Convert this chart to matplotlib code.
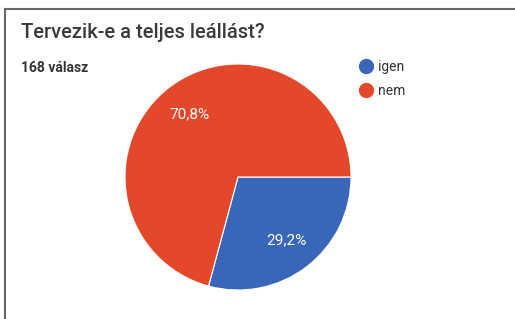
import matplotlib
matplotlib.use("Agg")
import matplotlib.pyplot as plt
from matplotlib.lines import Line2D

# Data
labels = ["igen", "nem"]
shares = [29.2, 70.8]
colors = ["#3a66b8", "#e4482a"]
title = "Tervezik-e a teljes leállást?"
subtitle = "168 válasz"

plt.rcParams["font.family"] = ["Roboto", "DejaVu Sans"]

W, H = 515, 319
fig = plt.figure(figsize=(W / 100, H / 100), dpi=100)
fig.patch.set_facecolor("white")

# pie axes: centre (238, 177) px, radius 113 px
cx, cy, r = 238, 177, 113
ax = fig.add_axes([(cx - r) / W, (H - cy - r) / H, 2 * r / W, 2 * r / H])
wedges, texts, autotexts = ax.pie(
    shares, colors=colors, startangle=0, counterclock=False,
    autopct=lambda p: f"{p:.1f}%".replace(".", ","), pctdistance=0.7,
    wedgeprops=dict(edgecolor="white", linewidth=0.8),
    textprops=dict(color="white", fontsize=11))
ax.set_xlim(-1, 1)
ax.set_ylim(-1, 1)
ax.axis("off")

# titles
fig.text(21 / W, 1 - 33 / H, title, fontsize=14.5, color="#3a3a3a", va="center", ha="left",
         fontweight="medium")
fig.text(21 / W, 1 - 68 / H, subtitle, fontsize=10, color="#333333", va="center", ha="left",
         fontweight="bold")

# legend
handles = [Line2D([], [], marker="o", ls="none", markersize=10, markerfacecolor=c,
                  markeredgecolor=c) for c in colors]
fig.legend(handles, labels, loc="upper left", bbox_to_anchor=(359 / W, 1 - 60 / H),
           frameon=False, fontsize=10, handletextpad=0.35, labelspacing=0.7,
           handlelength=1.0, borderpad=0, borderaxespad=0, labelcolor="#333333")

# frame lines (top and left)
fig.add_artist(Line2D([4.5 / W, 1], [1 - 8.5 / H, 1 - 8.5 / H], color="#666666", lw=1.5,
                      transform=fig.transFigure))
fig.add_artist(Line2D([4.5 / W, 4.5 / W], [0, 1 - 8.5 / H], color="#666666", lw=1.5,
                      transform=fig.transFigure))

fig.savefig("out.png", dpi=100)
